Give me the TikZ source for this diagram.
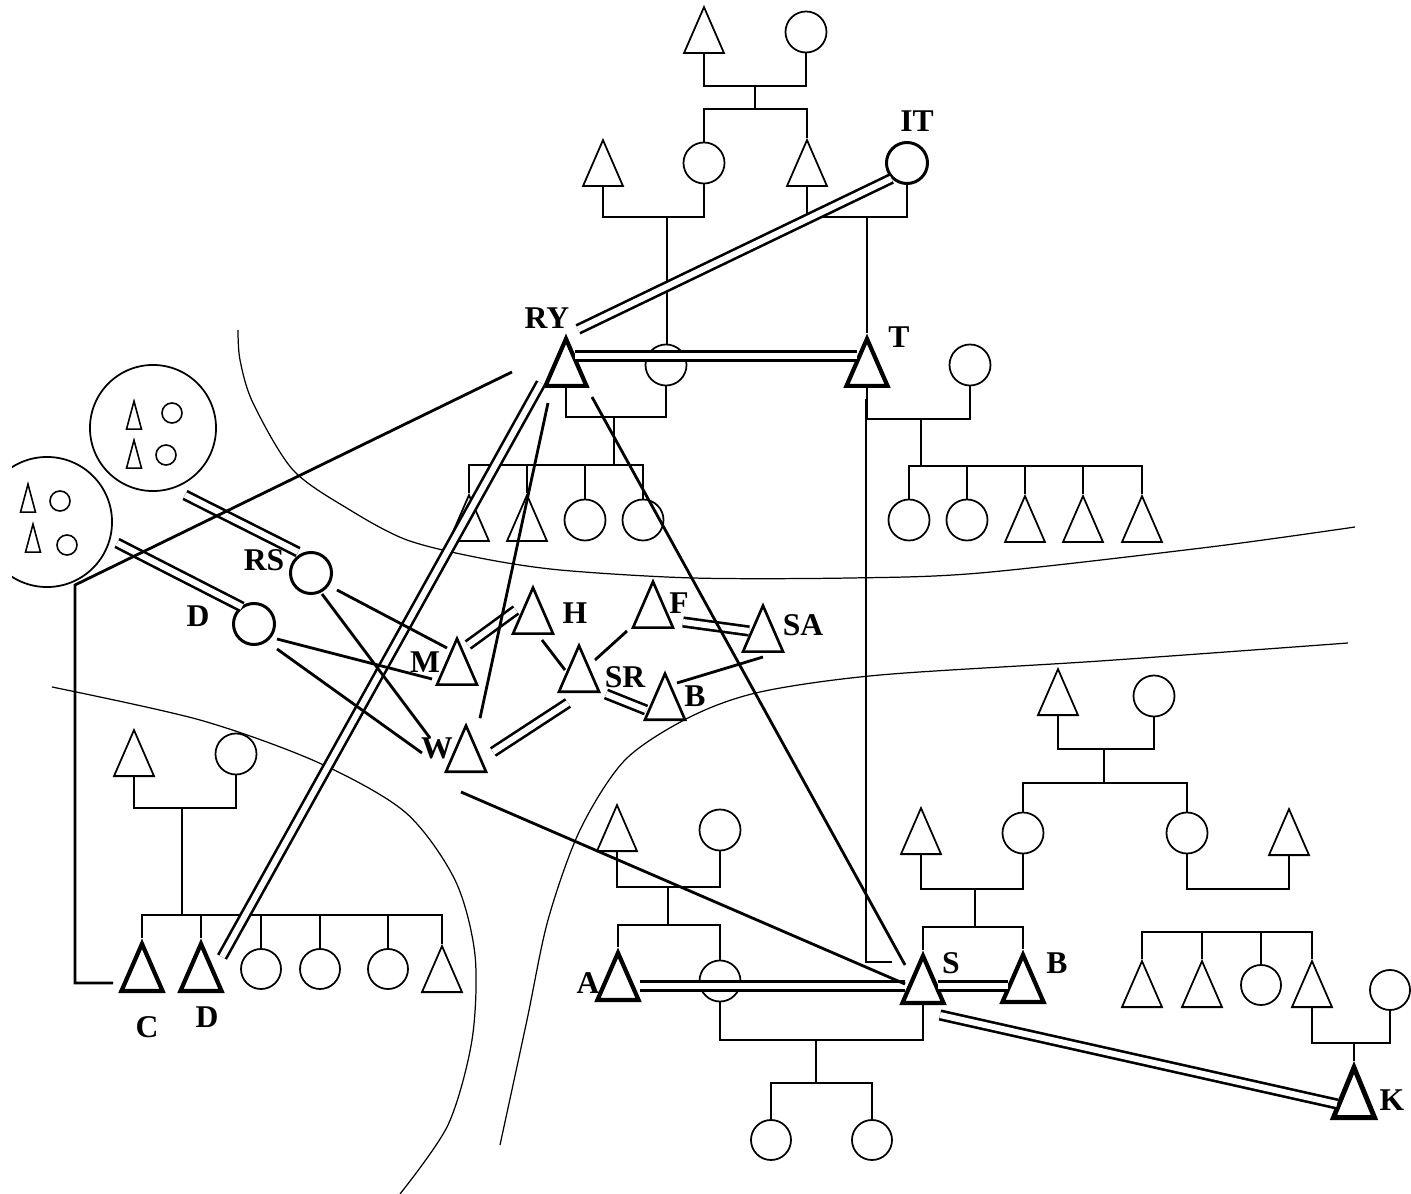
\documentclass[tikz,border=0pt]{standalone}
\usepackage{fontspec}
\setmainfont{Liberation Serif}
\usetikzlibrary{shapes.geometric,calc,positioning}
\tikzset{
  male/.style={isosceles triangle, isosceles triangle stretches, shape border rotate=90, draw, inner sep=0pt, minimum width=0.40cm, minimum height=0.46cm, anchor=lower side, line width=0.5pt},
  net/.style={male, line width=0.75pt},
  ego/.style={male, line width=1.2pt, minimum width=0.41cm, minimum height=0.47cm},
  female/.style={circle, draw, inner sep=0pt, minimum size=0.41cm, line width=0.5pt},
  strong/.style={female, line width=0.85pt},
  tinym/.style={male, minimum width=0.15cm, minimum height=0.28cm, line width=0.45pt},
  tinyf/.style={female, minimum size=0.20cm, line width=0.45pt},
  group/.style={circle, draw, inner sep=0pt, line width=0.5pt},
  tag/.style={font=\fontsize{9}{9}\selectfont\bfseries, inner sep=0pt},
  kin/.style={line width=0.45pt},
  tie/.style={line width=0.8pt},
  bond/.style={double, double distance=1.7pt, line width=0.75pt},
  zone/.style={line width=0.35pt},
}

\begin{document}
\begin{tikzpicture}[x=0.01cm, y=-0.01cm]
  \useasboundingbox (0,0) rectangle (1411,1194);
  \clip (12,0) rectangle (1411,1194);
  \draw[zone] plot[smooth] coordinates {(238,330) (240,360) (253,403) (293,470) (350,510) (407,540) (480,558) (560,570) (693,578) (850,578) (980,573) (1210,547) (1355,527)};
  \draw[zone] plot[smooth] coordinates {(1348,643) (1100,661) (880,675) (760,692) (690,717) (625,760) (580,830) (548,920) (527,1020) (500,1145)};
  \draw[zone] plot[smooth] coordinates {(52,687) (200,720) (317,762) (405,812) (455,880) (475,955) (472,1040) (448,1125) (400,1194)};

  \node[male] (ga) at (704,54) {};
  \node[female] (gb) at (806,32) {};
  \node[male] (pa) at (603,187) {};
  \node[female] (pb) at (704,163) {};
  \node[male] (pc) at (807,187) {};
  \node[strong] (it) at (907,163) {};
  \node[tag] (itl) at (917,121) {IT};

  \node[ego] (ry) at (566,388) {};
  \node[tag] (ryl) at (547,318) {RY};
  \node[female] (ryw) at (666,365) {};
  \node[ego] (t) at (867,388) {};
  \node[tag] (tl) at (899,337) {T};
  \node[female] (tw) at (970,365) {};

  \node[male] (ka) at (469,542) {};
  \node[male] (kb) at (527,542) {};
  \node[female] (kc) at (585,520) {};
  \node[female] (kd) at (643,520) {};
  \node[female] (ja) at (909,520) {};
  \node[female] (jb) at (967,520) {};
  \node[male] (jc) at (1025,543) {};
  \node[male] (jd) at (1083,543) {};
  \node[male] (je) at (1142,543) {};

  \node[group, minimum size=1.26cm] (gx) at (153,428) {};
  \node[tinym] (gx1) at (134,430) {};
  \node[tinyf] (gx2) at (172,413) {};
  \node[tinym] (gx3) at (134,469) {};
  \node[tinyf] (gx4) at (166,455) {};
  \node[group, minimum size=1.30cm] (gy) at (47,522) {};
  \node[tinym] (gy1) at (28,513) {};
  \node[tinyf] (gy2) at (60,501) {};
  \node[tinym] (gy3) at (33,553) {};
  \node[tinyf] (gy4) at (67,545) {};

  \node[strong] (rs) at (311,573) {};
  \node[tag] (rsl) at (264,560) {RS};
  \node[strong] (d) at (254,624) {};
  \node[tag] (dl) at (198,616) {D};

  \node[net] (m) at (457,686) {};
  \node[tag] (ml) at (425,662) {M};
  \node[net] (w) at (466,773) {};
  \node[tag] (wl) at (437,748) {W};
  \node[net] (h) at (533,635) {};
  \node[tag] (hl) at (575,613) {H};
  \node[net] (f) at (653,629) {};
  \node[tag] (fl) at (679,603) {F};
  \node[net] (sa) at (763,653) {};
  \node[tag] (sal) at (803,625) {SA};
  \node[net] (sr) at (579,693) {};
  \node[tag] (srl) at (625,677) {SR};
  \node[net] (b) at (665,721) {};
  \node[tag] (bl) at (695,696) {B};

  \node[male] (cf) at (134,777) {};
  \node[female] (cm) at (236,754) {};
  \node[ego] (c) at (142,993) {};
  \node[tag] (cl) at (147,1027) {C};
  \node[ego] (dc) at (201,993) {};
  \node[tag] (dcl) at (207,1017) {D};
  \node[female, minimum size=0.40cm] (ea) at (261,969) {};
  \node[female, minimum size=0.40cm] (eb) at (320,969) {};
  \node[female, minimum size=0.40cm] (ec) at (388,969) {};
  \node[male] (ed) at (442,993) {};

  \node[male] (af) at (617,852) {};
  \node[female] (am) at (720,830) {};
  \node[ego] (a) at (618,1002) {};
  \node[tag] (al) at (588,983) {A};
  \node[female] (sw) at (720,981) {};
  \node[ego] (s) at (923,1005) {};
  \node[tag] (sl) at (951,963) {S};
  \node[ego] (br) at (1023,1004) {};
  \node[tag] (brl) at (1057,963) {B};
  \node[female, minimum size=0.40cm] (oa) at (771,1140) {};
  \node[female, minimum size=0.40cm] (ob) at (872,1140) {};

  \node[male] (sf) at (921,855) {};
  \node[female] (sm) at (1023,833) {};
  \node[male] (hf) at (1058,716) {};
  \node[female] (hm) at (1154,696) {};
  \node[female] (hc) at (1187,833) {};
  \node[male] (hd) at (1289,856) {};

  \node[male] (ra) at (1142,1008) {};
  \node[male] (rb) at (1202,1008) {};
  \node[female, minimum size=0.40cm] (rc) at (1261,985) {};
  \node[male] (rd) at (1312,1008) {};
  \node[female, minimum size=0.40cm] (re) at (1390,990) {};
  \node[ego, minimum height=0.50cm, line width=1.4pt] (k) at (1354,1120) {};
  \node[tag] (kl) at (1392,1100) {K};

  \coordinate (gab) at (755,86);
  \coordinate (gak) at (755,109);
  \draw[kin] (ga.lower side) |- (gab) -| (gb.south);
  \draw[kin] (gab) -- (gak);
  \draw[kin] (pb.north) |- (gak) -| (pc.apex);
  \coordinate (pab) at (667,217);
  \draw[kin] (pa.lower side) |- (pab) -| (pb.south);
  \draw[kin] (pab) -- (pab |- ryw.north);
  \coordinate (pcb) at (867,217);
  \draw[kin] (pc.lower side) |- (pcb) -| (it.south);
  \draw[kin] (pcb) -- (pcb |- t.apex);

  \coordinate (ryb) at (614,417);
  \coordinate (ryk) at (614,465);
  \draw[kin] (ry.lower side) |- (ryb) -| (ryw.south);
  \draw[kin] (ryb) -- (ryk);
  \draw[kin] (ka.apex) |- (ryk) -| (kd.north);
  \draw[kin] (kb.apex) -- (kb.apex |- ryk);
  \draw[kin] (kc.north) -- (kc.north |- ryk);

  \coordinate (tb) at (921,419);
  \coordinate (tk) at (921,466);
  \draw[kin] (t.lower side) |- (tb) -| (tw.south);
  \draw[kin] (tb) -- (tk);
  \draw[kin] (ja.north) |- (tk) -| (je.apex);
  \draw[kin] (jb.north) -- (jb.north |- tk);
  \draw[kin] (jc.apex) -- (jc.apex |- tk);
  \draw[kin] (jd.apex) -- (jd.apex |- tk);

  \coordinate (cb) at (182,808);
  \coordinate (ck) at (182,915);
  \draw[kin] (cf.lower side) |- (cb) -| (cm.south);
  \draw[kin] (cb) -- (ck);
  \draw[kin] (c.apex) |- (ck) -| (ed.apex);
  \draw[kin] (dc.apex) -- (dc.apex |- ck);
  \draw[kin] (ea.north) -- (ea.north |- ck);
  \draw[kin] (eb.north) -- (eb.north |- ck);
  \draw[kin] (ec.north) -- (ec.north |- ck);

  \coordinate (ab) at (668,887);
  \coordinate (ak) at (668,925);
  \draw[kin] (af.lower side) |- (ab) -| (am.south);
  \draw[kin] (ab) -- (ak);
  \draw[kin] (a.apex) |- (ak) -| (sw.north);
  \coordinate (sb) at (816,1040);
  \coordinate (sk) at (816,1083);
  \draw[kin] (sw.south) |- (sb) -| (s.lower side);
  \draw[kin] (sb) -- (sk);
  \draw[kin] (oa.north) |- (sk) -| (ob.north);

  \coordinate (spb) at (975,889);
  \coordinate (spk) at (975,927);
  \draw[kin] (sf.lower side) |- (spb) -| (sm.south);
  \draw[kin] (spb) -- (spk);
  \draw[kin] (s.apex) |- (spk) -| (br.apex);
  \coordinate (hb) at (1104,749);
  \coordinate (hk) at (1104,783);
  \draw[kin] (hf.lower side) |- (hb) -| (hm.south);
  \draw[kin] (hb) -- (hk);
  \draw[kin] (sm.north) |- (hk) -| (hc.north);
  \coordinate (hcb) at (1238,889);
  \draw[kin] (hc.south) |- (hcb) -| (hd.lower side);

  \coordinate (rk) at (1227,932);
  \draw[kin] (ra.apex) |- (rk) -| (rd.apex);
  \draw[kin] (rb.apex) -- (rb.apex |- rk);
  \draw[kin] (rc.north) -- (rc.north |- rk);
  \coordinate (rdb) at (1354,1043);
  \draw[kin] (rd.lower side) |- (rdb) -| (re.south);
  \draw[kin] (rdb) -- (k.apex);

  \draw[bond] ($(ry.lower side)+(9,-32)$) -- ($(t.lower side)+(-10,-32)$);
  \draw[bond] ($(ry.apex)+(12,-4)$) -- (it.south west);
  \draw[bond] ($(ry.lower side)+(-25,-5)$) -- ($(dc.lower side)+(21,-36)$);
  \draw[bond] ($(gx.center)+(32,67)$) -- ($(rs.center)+(-13,-21)$);
  \draw[bond] ($(gy.center)+(70,21)$) -- ($(d.center)+(-12,-17)$);
  \draw[bond] ($(m.lower side)+(11,-41)$) -- ($(h.lower side)+(-17,-25)$);
  \draw[bond] ($(f.lower side)+(30,-7)$) -- ($(sa.lower side)+(-14,-22)$);
  \draw[bond] ($(sr.lower side)+(27,1)$) -- ($(b.lower side)+(-19,-11)$);
  \draw[bond] ($(w.lower side)+(27,-21)$) -- ($(sr.lower side)+(-11,10)$);
  \draw[bond] ($(a.lower side)+(22,-16)$) -- ($(s.lower side)+(-18,-19)$);
  \draw[bond] ($(s.lower side)+(15,-19)$) -- ($(br.lower side)+(-15,-18)$);
  \draw[bond] ($(s.lower side)+(17,10)$) -- ($(k.lower side)+(-17,-16)$);

  \coordinate (cbend) at (75,585);
  \coordinate (cend) at (512,372);
  \draw[tie] ($(c.lower side)+(-29,-10)$) -| (cbend) -- (cend);
  \draw[tie] ($(ry.lower side)+(-18,15)$) -- ($(w.apex)+(14,-4)$);
  \draw[tie] ($(ry.lower side)+(26,9)$) -- ($(s.lower side)+(-18,-40)$);
  \draw[tie] ($(w.lower side)+(-5,19)$) -- ($(s.lower side)+(-18,-21)$);
  \draw[tie] ($(t.lower side)+(-1,11)$) |- ($(s.lower side)+(-31,-43)$);
  \draw[tie] ($(rs.center)+(26,17)$) -- ($(m.lower side)+(-10,-38)$);
  \draw[tie] ($(rs.center)+(11,21)$) -- ($(w.lower side)+(-36,-35)$);
  \draw[tie] ($(d.center)+(23,15)$) -- ($(m.lower side)+(-25,-7)$);
  \draw[tie] ($(d.center)+(23,25)$) -- ($(w.lower side)+(-44,-20)$);
  \draw[tie] ($(h.lower side)+(9,5)$) -- ($(sr.lower side)+(-14,-23)$);
  \draw[tie] ($(f.lower side)+(-26,2)$) -- ($(sr.lower side)+(16,-33)$);
  \draw[tie] ($(sa.lower side)+(0,4)$) -- ($(b.lower side)+(12,-38)$);
\end{tikzpicture}
\end{document}
